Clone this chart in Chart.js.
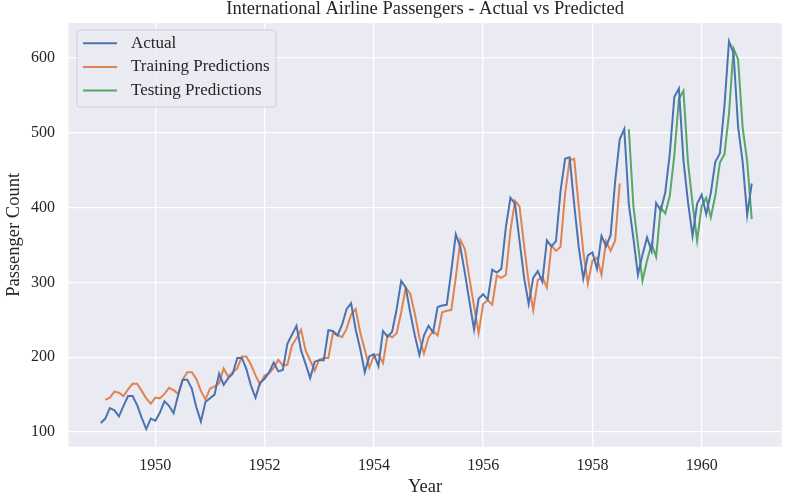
<!DOCTYPE html>
<html>
<head>
<meta charset="utf-8">
<script src="https://cdn.jsdelivr.net/npm/chart.js@4.4.1/dist/chart.umd.min.js"></script>
<style>
  html, body { margin: 0; padding: 0; background: #ffffff; }
  #wrap { width: 796px; height: 498px; position: relative; }
</style>
</head>
<body>
<div id="wrap"><canvas id="chart"></canvas></div>
<script>
// monthly series, Jan 1949 .. Dec 1960
const startYear = 1949;
const actual = [
  112, 118, 132, 129, 121, 135, 148, 148, 136, 119, 104, 118,
  115, 126, 141, 135, 125, 149, 170, 170, 158, 133, 114, 140,
  145, 150, 178, 163, 172, 178, 199, 199, 184, 162, 146, 166,
  171, 180, 193, 181, 183, 218, 230, 242, 209, 191, 172, 194,
  196, 196, 236, 235, 229, 243, 264, 272, 237, 211, 180, 201,
  204, 188, 235, 227, 234, 264, 302, 293, 259, 229, 203, 229,
  242, 233, 267, 269, 270, 315, 364, 347, 312, 274, 237, 278,
  284, 277, 317, 313, 318, 374, 413, 405, 355, 306, 271, 306,
  315, 301, 356, 348, 355, 422, 465, 467, 404, 347, 305, 336,
  340, 318, 362, 348, 363, 435, 491, 505, 404, 359, 310, 337,
  360, 342, 406, 396, 420, 472, 548, 559, 463, 407, 362, 405,
  417, 391, 419, 461, 472, 535, 622, 606, 508, 461, 390, 432
];

// training predictions start at month index 1
const trainStart = 1;
const trainPred = [
  143, 146, 154, 152.5, 148, 157, 164.5, 164.5, 155, 145, 138, 146,
  145, 151, 159, 156, 151, 170, 180, 180, 171, 155, 143.5, 158,
  161, 165, 185, 174, 180, 185, 201, 201, 190, 175.6, 163.6, 175.6,
  178.7, 185.8, 196.5, 189, 189.8, 215.6, 225.3, 236.5, 209, 195.6, 182, 196.9,
  199, 199, 232, 229.8, 226.7, 237.8, 257, 264.5, 233, 210, 186, 202,
  204, 192, 230, 226.7, 232, 260, 293, 284.5, 258, 226, 205, 226,
  235, 229, 260, 262, 263, 307, 356.5, 344, 305, 268, 232, 271,
  276, 270, 309, 306, 310, 369, 409, 401, 349, 300, 263, 303,
  307, 293, 349, 342, 347.6, 419, 463, 465, 401, 341, 298, 329,
  333, 310, 355, 342, 356, 432
];

// testing predictions start at month index 116
const testStart = 116;
const testPred = [
  504.5, 402, 351, 302, 329, 351, 334, 400, 392, 415.6, 470, 545,
  556, 460, 405, 355.6, 402, 413, 386.7, 416, 460, 471, 525, 612.5,
  597.7, 506.7, 462, 384.5
];

const xTicks = [1950, 1952, 1954, 1956, 1958, 1960];
const yTicks = [100, 200, 300, 400, 500, 600];

const FONT = "'Liberation Serif', 'Times New Roman', serif";
const INK = '#262626';

function toPoints(values, offset) {
  return values.map((v, i) => ({ x: startYear + (offset + i) / 12, y: v }));
}

const legendItems = [
  { label: 'Actual', color: '#4C72B0' },
  { label: 'Training Predictions', color: '#DD8452' },
  { label: 'Testing Predictions', color: '#55A868' }
];

const decor = {
  id: 'decor',
  beforeDraw(chart) {
    const { ctx, chartArea: a } = chart;
    ctx.save();
    ctx.fillStyle = '#EAEAF2';
    ctx.fillRect(a.left, a.top, a.right - a.left, a.bottom - a.top);
    ctx.restore();
  },
  afterDraw(chart) {
    const { ctx, chartArea: a } = chart;
    ctx.save();
    // title
    ctx.fillStyle = INK;
    ctx.font = '18.5px ' + FONT;
    ctx.textAlign = 'center';
    ctx.textBaseline = 'middle';
    ctx.fillText('International Airline Passengers - Actual vs Predicted', (a.left + a.right) / 2, 9.5);

    // legend box
    const bx = 77, by = 30, bw = 199, bh = 77, r = 3;
    ctx.beginPath();
    ctx.moveTo(bx + r, by);
    ctx.arcTo(bx + bw, by, bx + bw, by + bh, r);
    ctx.arcTo(bx + bw, by + bh, bx, by + bh, r);
    ctx.arcTo(bx, by + bh, bx, by, r);
    ctx.arcTo(bx, by, bx + bw, by, r);
    ctx.closePath();
    ctx.fillStyle = 'rgba(234,234,242,0.85)';
    ctx.fill();
    ctx.strokeStyle = 'rgba(204,204,210,0.9)';
    ctx.lineWidth = 1;
    ctx.stroke();

    ctx.font = '17px ' + FONT;
    ctx.textAlign = 'left';
    legendItems.forEach((it, k) => {
      const y = 43.3 + k * 23.6;
      ctx.strokeStyle = it.color;
      ctx.lineWidth = 2;
      ctx.beginPath();
      ctx.moveTo(83, y);
      ctx.lineTo(117, y);
      ctx.stroke();
      ctx.fillStyle = INK;
      ctx.fillText(it.label, 131, y);
    });
    ctx.restore();
  }
};

const lineStyle = { borderWidth: 2, pointRadius: 0, tension: 0, fill: false };

new Chart(document.getElementById('chart'), {
  type: 'line',
  data: {
    datasets: [
      Object.assign({ label: 'Actual', data: toPoints(actual, 0), borderColor: '#4C72B0' }, lineStyle),
      Object.assign({ label: 'Training Predictions', data: toPoints(trainPred, trainStart), borderColor: '#DD8452' }, lineStyle),
      Object.assign({ label: 'Testing Predictions', data: toPoints(testPred, testStart), borderColor: '#55A868' }, lineStyle)
    ]
  },
  options: {
    responsive: true,
    maintainAspectRatio: false,
    animation: false,
    layout: { padding: { top: 22.7, right: 14.3, left: 0, bottom: 0 } },
    plugins: { legend: { display: false }, title: { display: false }, tooltip: { enabled: false } },
    scales: {
      x: {
        type: 'linear',
        min: 1948.41,
        max: 1961.465,
        afterBuildTicks: s => { s.ticks = xTicks.map(v => ({ value: v })); },
        afterFit: s => { s.height = 51.3; },
        grid: { color: '#ffffff', lineWidth: 1.3, drawTicks: false },
        border: { display: false },
        ticks: { color: INK, font: { family: FONT, size: 16 }, padding: 9, maxRotation: 0, callback: v => String(v) },
        title: { display: true, text: 'Year', color: INK, font: { family: FONT, size: 18.5 }, padding: { top: 0, bottom: 0 } }
      },
      y: {
        type: 'linear',
        min: 80.4,
        max: 646.3,
        afterBuildTicks: s => { s.ticks = yTicks.map(v => ({ value: v })); },
        afterFit: s => { s.width = 68.5; },
        grid: { color: '#ffffff', lineWidth: 1.3, drawTicks: false },
        border: { display: false },
        ticks: { color: INK, font: { family: FONT, size: 16 }, padding: 13.5, callback: v => String(v) },
        title: { display: true, text: 'Passenger Count', color: INK, font: { family: FONT, size: 18.5 }, padding: { top: 3, bottom: 0 } }
      }
    }
  },
  plugins: [decor]
});
</script>
</body>
</html>
